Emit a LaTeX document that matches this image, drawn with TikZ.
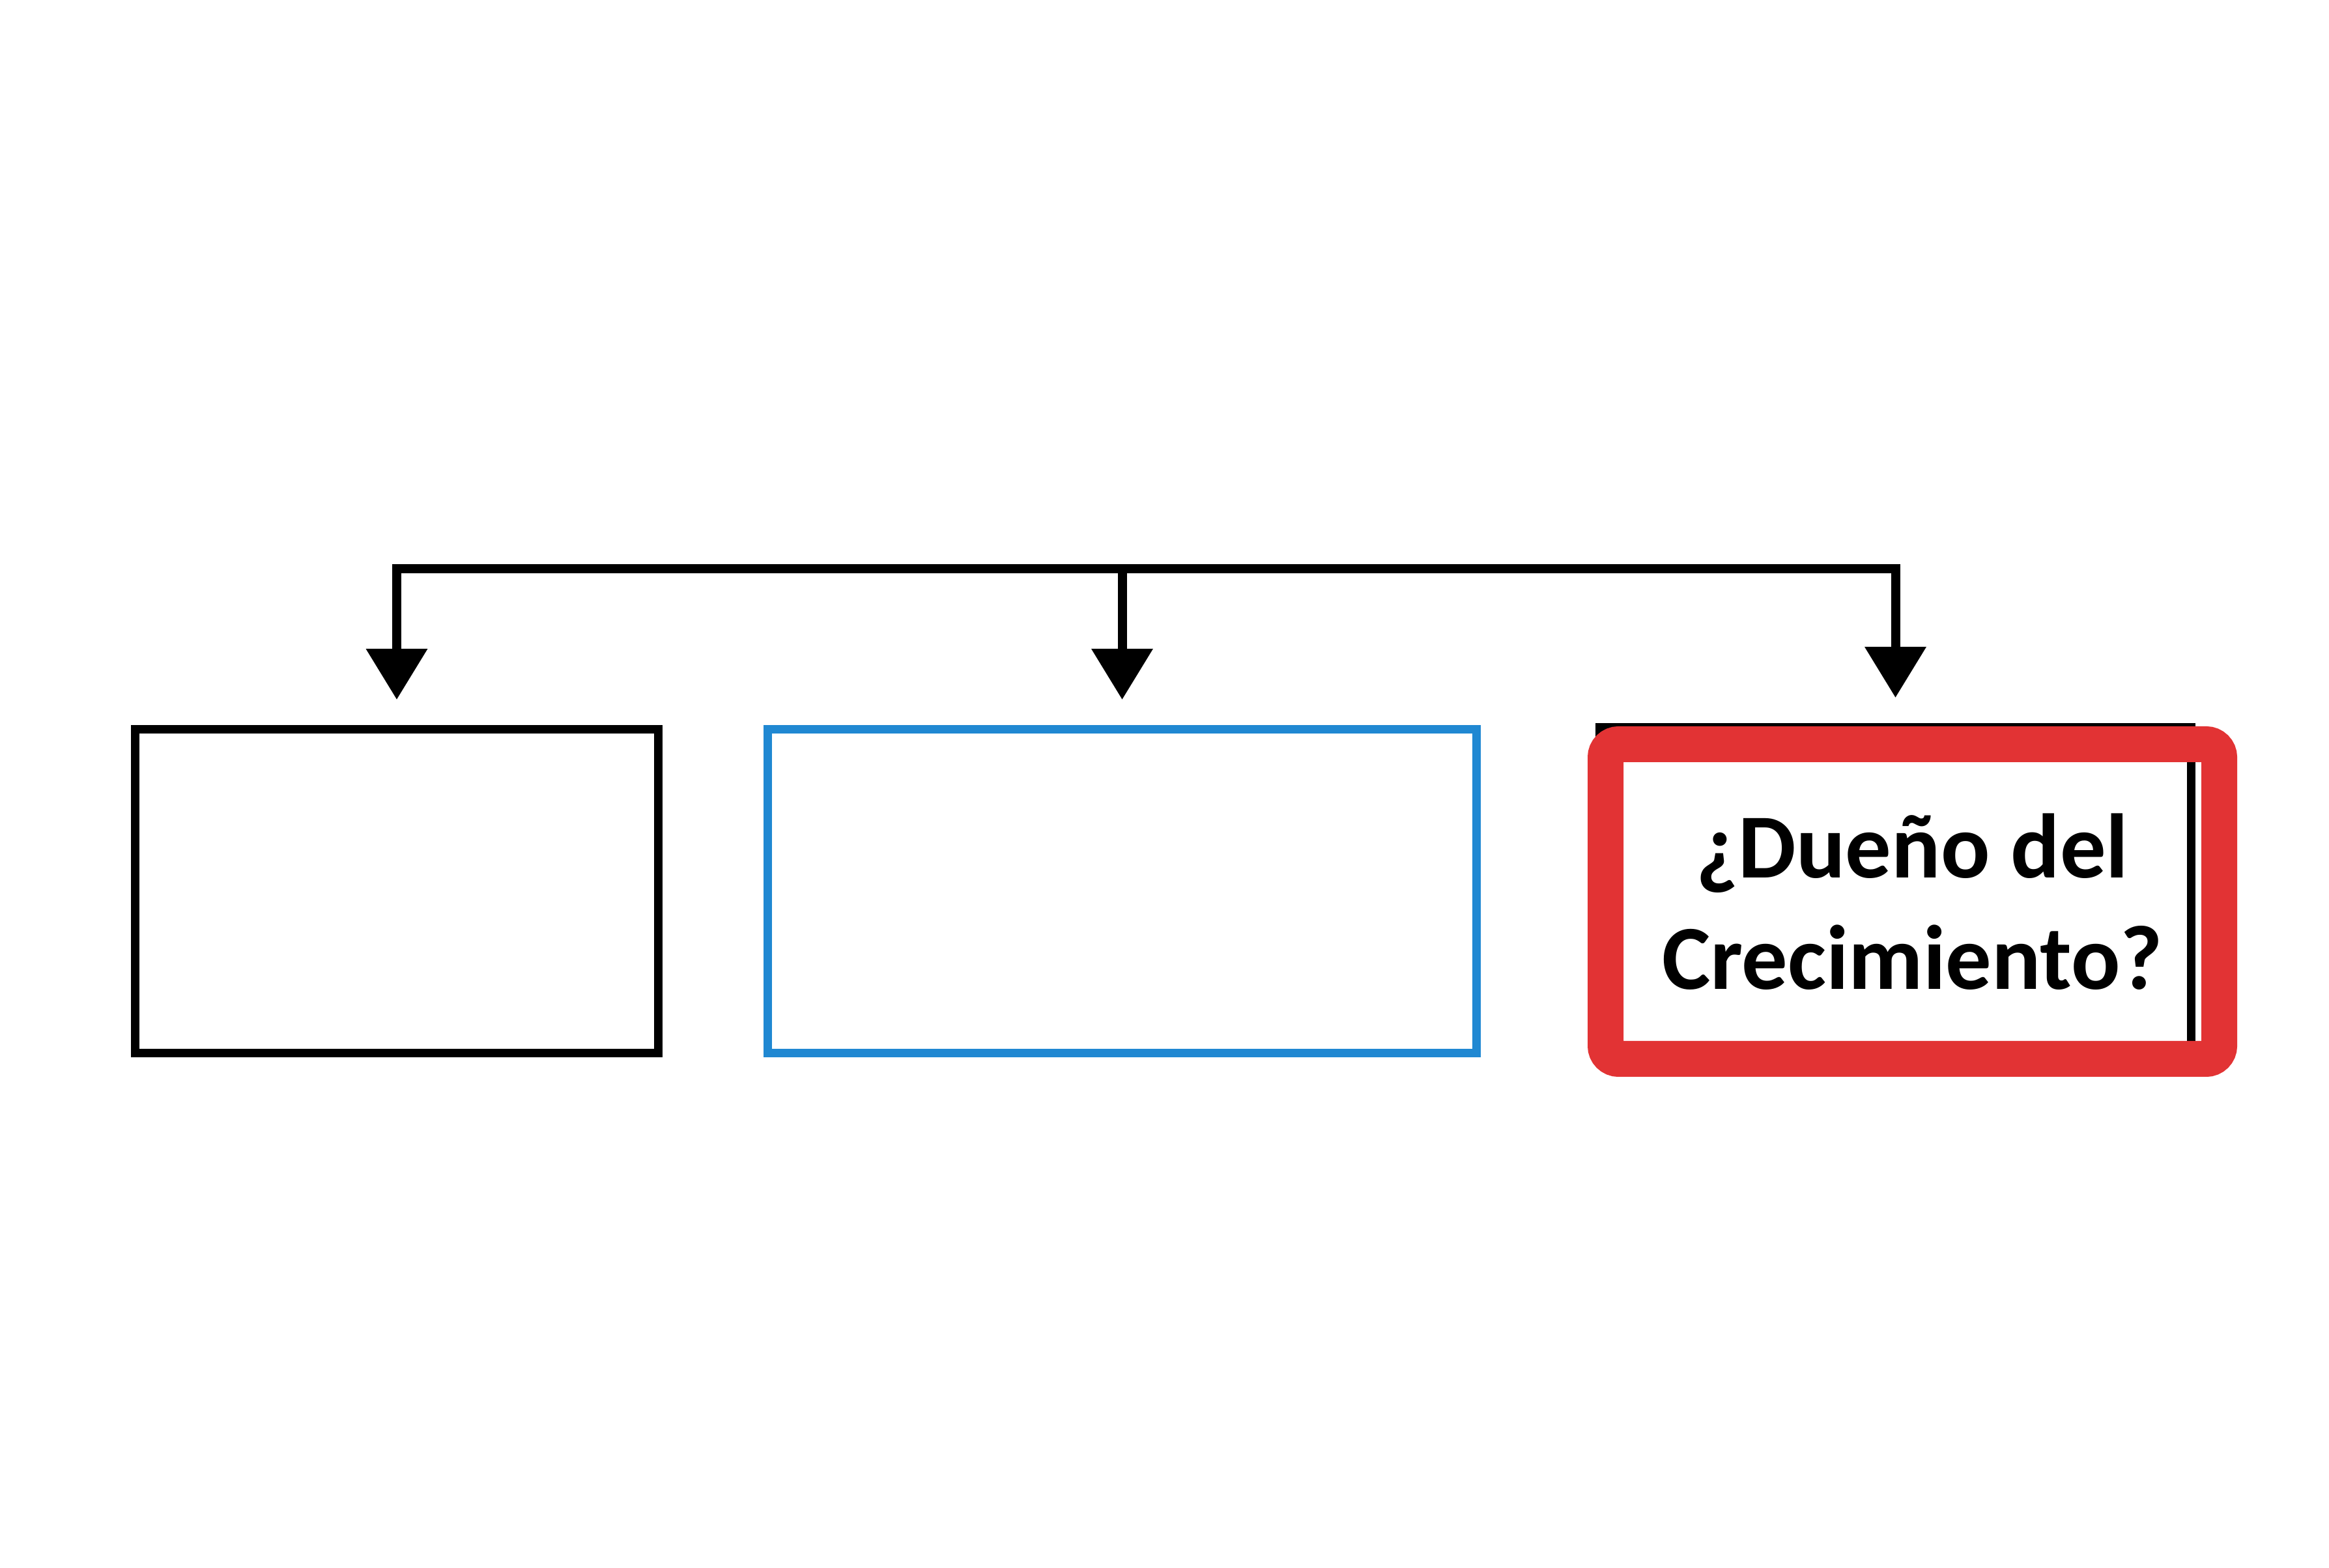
\documentclass[tikz,border=0pt]{standalone}
\usepackage{fontspec}
\setmainfont{Carlito}
\usepackage{tikz}
\usetikzlibrary{arrows.meta, positioning}
\definecolor{boxblue}{HTML}{2088D2}
\definecolor{boxred}{HTML}{E23334}
\tikzset{
    box/.style={rectangle, draw=black, line width=0.13cm, inner sep=0pt},
    wire/.style={draw=black, line width=0.14cm},
    drop/.style={wire, -{Triangle[width=0.91cm, length=0.78cm]}, shorten >=0.39cm},
}

\begin{document}
\begin{tikzpicture}
                 \useasboundingbox (0,0) rectangle (35.75,24.06);

                 % the three boxes
                 \node[box, minimum width=8.03cm, minimum height=4.97cm] (lbox) at (6.09,10.38) {};
                 \node[box, draw=boxblue, minimum width=10.88cm, minimum height=4.97cm] (cbox) at (17.225,10.38) {};
                 \node[box, minimum width=9.08cm, minimum height=4.96cm] (kbox) at (29.095,10.415) {};
                 \node[box, draw=boxred, line width=0.55cm, rounded corners=0.2cm,
                       minimum width=9.42cm, minimum height=4.83cm] (rbox) at (29.355,10.22) {};
                 \node[font=\bfseries\fontsize{40}{48.7}\selectfont, align=center] (rtext) at (rbox.center)
                       {¿Dueño del\\Crecimiento?};

                 % top line and arrows
                 \coordinate (top) at (0,15.33);
                 \draw[wire, line cap=rect] (lbox.north |- top) -- (kbox.north |- top);
                 \foreach \b in {lbox, cbox, kbox}
                     \draw[drop] (\b.north |- top) -- (\b.north);
%                 \draw[wire] (rbox.north |- top) -- (rbox.north);

\end{tikzpicture}
\end{document}
